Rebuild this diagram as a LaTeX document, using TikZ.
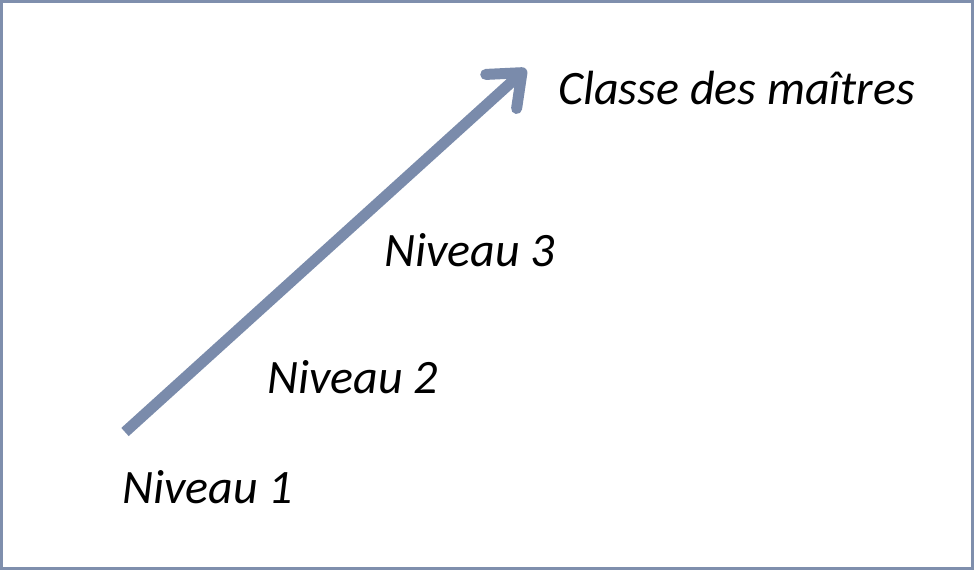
\documentclass[tikz,border=0pt]{standalone}
\usepackage{fontspec}
\setmainfont{Carlito}
\usetikzlibrary{arrows.meta}
\definecolor{cadre}{HTML}{7F8FAD}
\definecolor{fleche}{HTML}{7A8BAB}
\tikzset{niveau/.style={anchor=base west, inner sep=0pt, font=\fontsize{48}{58}\selectfont\itshape}}
\begin{document}
\begin{tikzpicture}[x=1pt, y=-1pt]
\useasboundingbox (0,0) rectangle (974,570);
\draw[cadre, line width=3pt] (1.5,1.5) rectangle (972.5,568.5);
\coordinate (D) at (125,432);
\coordinate (F) at (526,69);
\draw[fleche, line width=11pt, -{Straight Barb[round, length=28pt, width=46pt]}] (D) -- (F);
\node[niveau] (N_1) at (122,503) {Niveau 1};
\node[niveau] (N_2) at (267,393) {Niveau 2};
\node[niveau] (N_3) at (384,266) {Niveau 3};
\node[niveau] (N_M) at (558,104) {Classe des maîtres};
\end{tikzpicture}
\end{document}
